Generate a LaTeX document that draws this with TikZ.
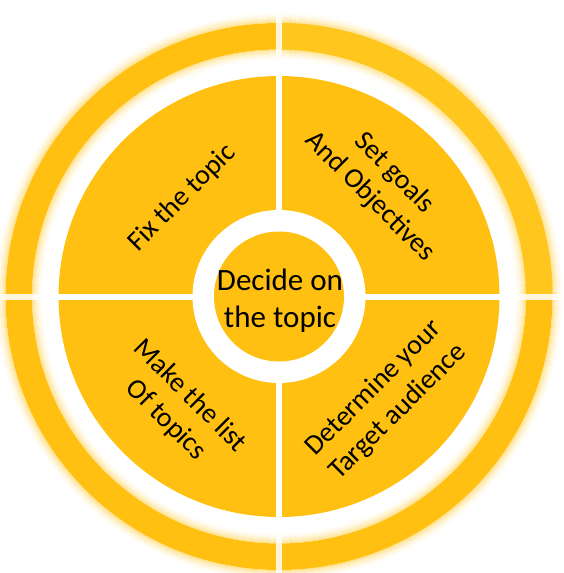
\documentclass[tikz,border=0pt]{standalone}
\usepackage{fontspec}
\setmainfont{Carlito}
\definecolor{gold}{RGB}{255,192,18}
\definecolor{goldlight}{RGB}{255,199,30}
\begin{document}
\begin{tikzpicture}[x=1pt,y=-1pt,
  lbl/.style={font=\fontsize{28}{34}\selectfont, align=center, text=black, inner sep=0pt},
  clbl/.style={font=\fontsize{31}{37}\selectfont, align=center, text=black, inner sep=0pt},
  gapline/.style={white, line width=6pt},
  ringgap/.style={white, opacity=0.85, line width=6pt}]
\useasboundingbox (0,0) rectangle (564,573);
\coordinate (c) at (279,296.5);
% soft glow around the outer ring
\foreach \k in {1,...,12}{
  \pgfmathsetmacro{\op}{0.5*(1-\k/13)^2}
  \draw[gold, opacity=\op, line width=1.05pt] (c) circle ({273.5+\k-0.5});
  \draw[gold, opacity=\op, line width=1.05pt] (c) circle ({247-\k+0.5});
}
% outer ring
\fill[gold, even odd rule] (c) circle (273.5) (c) circle (247);
\begin{scope}
  \clip (c) rectangle ++(300,-300);
  \fill[goldlight, even odd rule] (c) circle (273.5) (c) circle (247);
\end{scope}
% gaps in the ring
\draw[ringgap] (c) ++(-292,0) -- ++(57,0);
\draw[ringgap] (c) ++(235,0) -- ++(57,0);
\draw[ringgap] (c) ++(0,-292) -- ++(0,57);
\draw[ringgap] (c) ++(0,235) -- ++(0,57);
% four quadrants
\fill[gold] (c) circle (220.5);
\draw[gapline] (c) ++(-224,0) -- ++(448,0);
\draw[gapline] (c) ++(0,-224) -- ++(0,448);
% centre
\fill[white] (c) circle (86.5);
\fill[gold] (c) circle (65);
% texts
\node[clbl] (centre) at (280,301) {Decide on\\the topic};
\node[lbl, rotate=45] (fix) at (182,198) {Fix the topic};
\node[lbl, rotate=-45] (goals) at (382,185) {Set goals\\And Objectives};
\node[lbl, rotate=-45] (list) at (178,408) {Make the list\\Of topics};
\node[lbl, rotate=45] (aud) at (386,400) {Determine your\\Target audience};
\end{tikzpicture}
\end{document}
